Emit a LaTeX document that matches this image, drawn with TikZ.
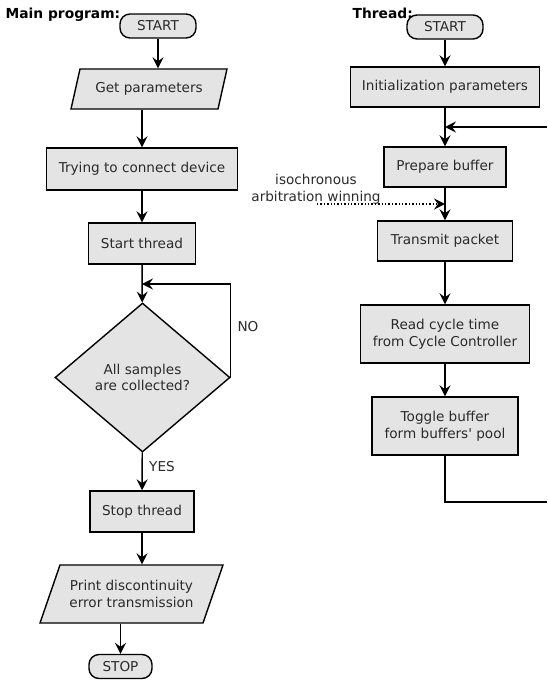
\documentclass[tikz,border=0pt]{standalone}
\usepackage{fontspec}
\setmainfont{DejaVu Sans}
\usetikzlibrary{arrows.meta,shapes.geometric}
\definecolor{boxgray}{HTML}{E4E4E4}
\definecolor{txtgray}{HTML}{2A2A2A}
\begin{document}
\begin{tikzpicture}[x=1pt,y=-1pt,
  font=\fontsize{13.6}{16.5}\selectfont,
  line width=1.4pt,
  boxnode/.style={draw,fill=boxgray,inner sep=0pt,align=center,text=txtgray},
  termnode/.style={draw,fill=boxgray,inner sep=0pt,rounded corners=10pt,text=txtgray,minimum width=#1,minimum height=24pt},
  txtnode/.style={inner sep=0pt,align=center,text=txtgray},
  arr/.style={-{Stealth[length=11pt,width=11pt,inset=4pt]}},
  para/.style={draw,fill=boxgray,line join=miter}
]
\useasboundingbox (0,0) rectangle (547,680);

% ---------- Main program ----------
\node[anchor=base west,inner sep=0pt,font=\fontsize{13.8}{16.5}\selectfont\bfseries] (mainlbl) at (5,19) {Main program:};
\node[termnode=76pt] (s1) at (158,26) {START};

\draw[para] (80,69) -- (227,69) -- (218,109) -- (71,109) -- cycle;
\node[txtnode,minimum width=140pt,minimum height=40pt] (gp) at (149,89) {Get parameters};

\node[boxnode,minimum width=191pt,minimum height=42pt] (tr) at (142,169) {Trying to connect device};
\node[boxnode,minimum width=107pt,minimum height=41pt] (st) at (142,243.5) {Start thread};
\node[boxnode,diamond,minimum width=175pt,minimum height=149pt] (dm) at (142.5,377.5) {All samples\\are collected?};
\node[boxnode,minimum width=104pt,minimum height=41pt] (sp) at (142,511.5) {Stop thread};

\draw[para] (60,565) -- (223,565) -- (203,623) -- (40,623) -- cycle;
\node[txtnode,minimum width=150pt,minimum height=58pt] (pr) at (131.5,594) {Print discontinuity\\error transmission};

\node[termnode=63pt] (stop) at (120.5,666.5) {STOP};

\node[txtnode] (no) at (248,327) {NO};
\node[txtnode] (yes) at (162,467) {YES};

\coordinate (loopA) at (142,284);

\draw[arr] (s1) -- (s1 |- gp.north);
\draw[arr] (gp.south -| tr) -- (tr.north);
\draw[arr] (tr) -- (st);
\draw[arr] (st) -- (dm);
\draw[arr] (dm.east) |- (loopA);
\draw[arr] (dm) -- (sp);
\draw[arr] (sp.south) -- (sp.south |- pr.north);
\draw[arr] (pr.south -| stop) -- (stop.north);

% ---------- Thread ----------
\node[anchor=base west,inner sep=0pt,font=\fontsize{13.8}{16.5}\selectfont\bfseries] (thrlbl) at (352,19) {Thread:};
\node[termnode=76pt] (s2) at (445,27) {START};
\node[boxnode,minimum width=189pt,minimum height=40pt] (init) at (445,87) {Initialization parameters};
\node[boxnode,minimum width=122pt,minimum height=40pt] (pb) at (445,167) {Prepare buffer};
\node[boxnode,minimum width=135pt,minimum height=40pt] (tp) at (445,241) {Transmit packet};
\node[boxnode,minimum width=169pt,minimum height=58pt] (rc) at (445,334) {Read cycle time\\from Cycle Controller};
\node[boxnode,minimum width=146pt,minimum height=58pt] (tg) at (445,426) {Toggle buffer\\form buffers\textquotesingle\ pool};

\node[txtnode] (iso) at (316,189) {isochronous\\arbitration winning};

\coordinate (re) at (547,127);
\coordinate (rb) at (547,502);
\coordinate (dstart) at (317,204);

\draw[arr] (s2) -- (init);
\draw[arr] (init) -- (pb);
\draw[arr] (re) -- (re -| pb);
\draw[arr] (pb) -- (tp);
\draw[arr,dotted] (dstart) -- (dstart -| tp);
\draw[arr] (tp) -- (rc);
\draw[arr] (rc) -- (tg);
\draw (tg.south) |- (rb);
\end{tikzpicture}
\end{document}
